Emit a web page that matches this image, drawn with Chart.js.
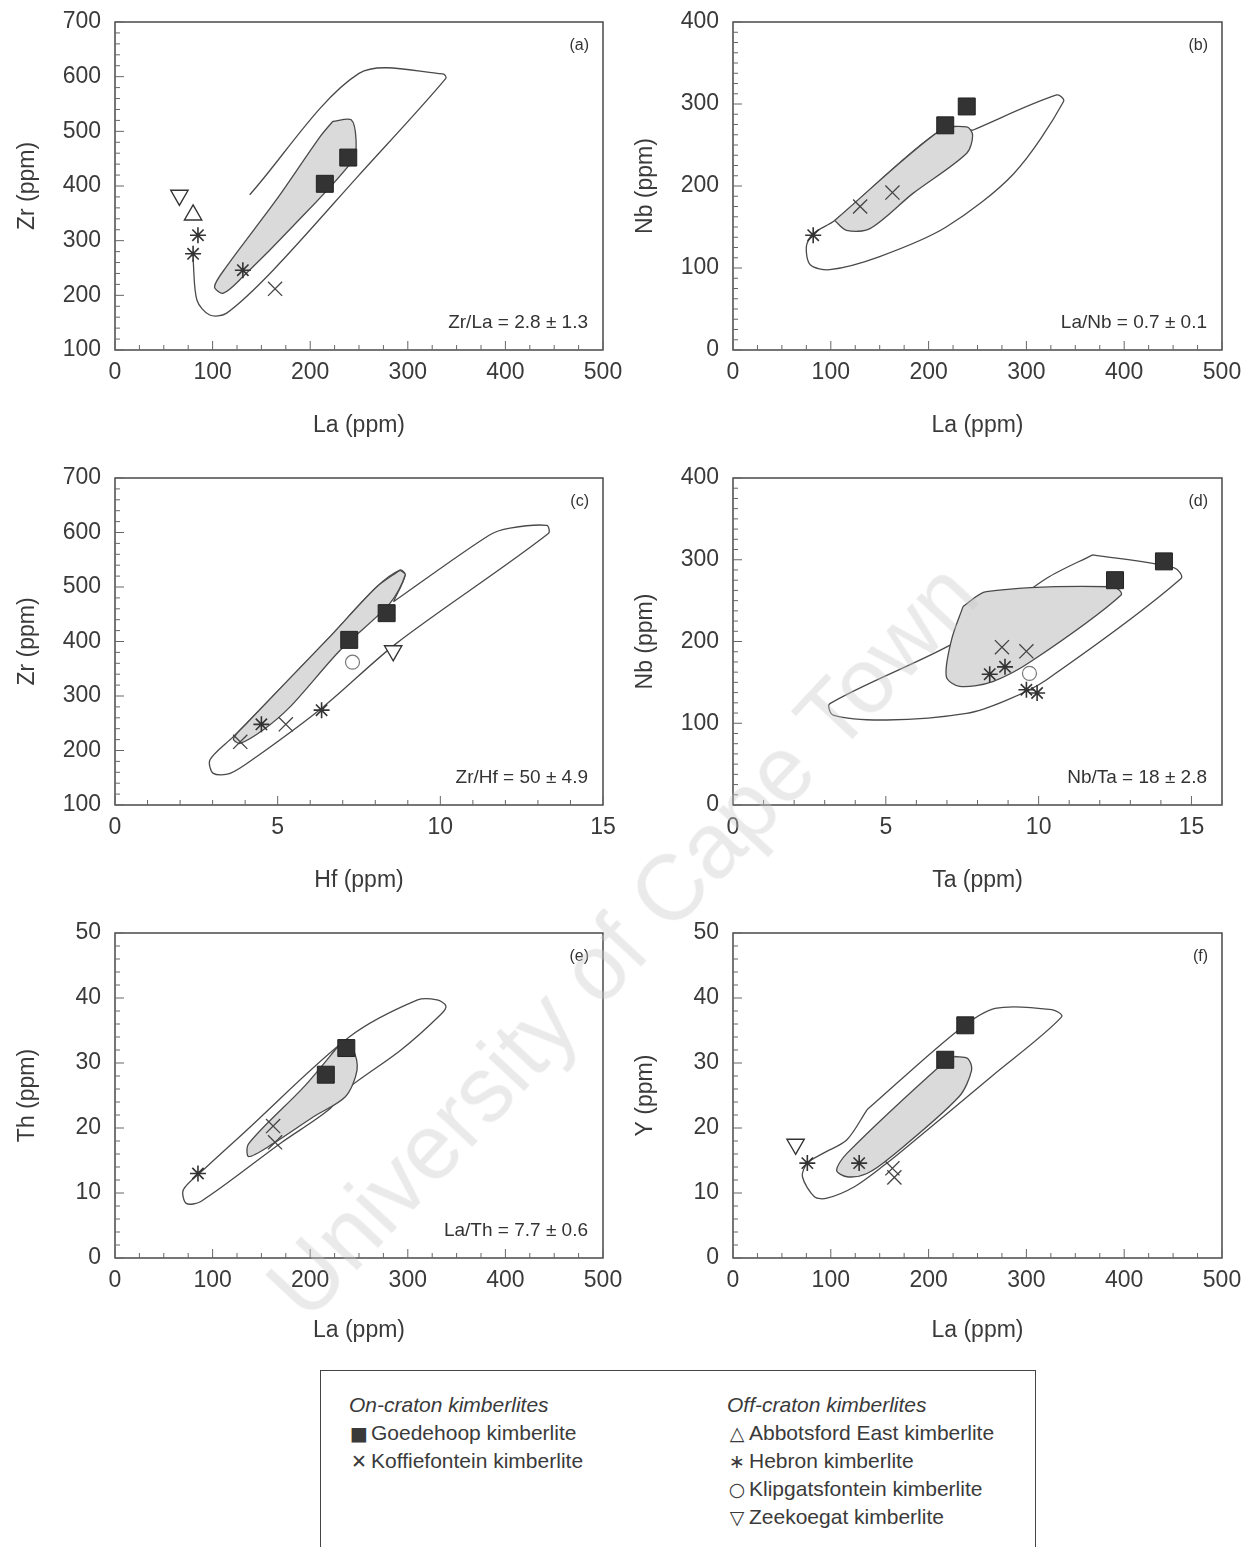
<!DOCTYPE html>
<html>
<head>
<meta charset="utf-8">
<script src="https://cdn.jsdelivr.net/npm/chart.js@4.4.1/dist/chart.umd.min.js"></script>
<style>
  body { margin: 0; background: #fff; width: 1257px; height: 1547px; overflow: hidden; position: relative;
         font-family: "Liberation Sans", Arial, Helvetica, sans-serif; color: #333; }
  canvas { position: absolute; }
  #key { position: absolute; left: 320px; top: 1370px; width: 714px; height: 200px;
         border: 1.5px solid #444; border-bottom: none; }
  #key .col { position: absolute; top: 20px; font-size: 21px; line-height: 28px; white-space: nowrap; color: #3a3a3a; }
  #key .head { font-style: italic; }
  #key .sym { display: inline-block; width: 20px; margin-right: 2px; text-align: center; font-family: "DejaVu Sans", sans-serif; font-size: 19px; }
  #stamp { position: absolute; left: 622px; top: 940px; transform: translate(-50%, -50%) rotate(-47deg);
           font-size: 92px; color: rgba(200, 200, 200, 0.38); white-space: nowrap; pointer-events: none; z-index: 5; }
</style>
</head>
<body>
<canvas id="chartA" width="630" height="450" style="left:0;top:0"></canvas>
<canvas id="chartB" width="631" height="450" style="left:618px;top:0"></canvas>
<canvas id="chartC" width="630" height="449" style="left:0;top:456px"></canvas>
<canvas id="chartD" width="631" height="449" style="left:618px;top:456px"></canvas>
<canvas id="chartE" width="630" height="447" style="left:0;top:911px"></canvas>
<canvas id="chartF" width="631" height="447" style="left:618px;top:911px"></canvas>
<div id="key"></div>
<div id="stamp">University of Cape Town</div>

<script>
Chart.defaults.font.family = '"Liberation Sans", Arial, Helvetica, sans-serif';
Chart.defaults.color = '#3a3a3a';

// kimberlite groups
const onCratonNames = ['Goedehoop kimberlite', 'Koffiefontein kimberlite'];
const offCratonNames = ['Abbotsford East kimberlite', 'Hebron kimberlite', 'Klipgatsfontein kimberlite', 'Zeekoegat kimberlite'];

// axes: [min, max, labelled step, minor tick step]
const axisLa = [0, 500, 100, 25];
const axisZr = [100, 700, 100, 20];
const axisNb = [0, 400, 100, 12.5];
const axisHf = [0, 15, 5, 1];
const axisTa = [0, 16, 5, 1];
const axisTh = [0, 50, 10, 2];
const axisY = [0, 50, 10, 2];

// (a) Zr vs La
const aGoedehoop = [[215, 404], [239, 452]];
const aKoffiefontein = [[164, 212]];
const aAbbotsford = [[80, 347]];
const aHebron = [[85, 310], [80, 276], [131, 246]];
const aZeekoegat = [[66, 383]];
const aFieldShaded = [[223, 518], [242, 521], [247, 484], [244, 448], [182, 326], [131, 234], [111, 204], [102, 216], [114, 252], [165, 374], [210, 490], [223, 518]];
const aFieldOpen = [[138, 384], [250, 606], [336, 605], [339, 597], [250, 420], [162, 246], [114, 167], [97, 164], [84, 191], [80, 265]];

// (b) Nb vs La
const bGoedehoop = [[217, 274], [239, 297]];
const bKoffiefontein = [[163, 192], [130, 175]];
const bHebron = [[82, 140]];
const bFieldShaded = [[104, 158], [212, 268], [239, 272], [245, 262], [239, 240], [184, 191], [140, 148], [116, 146], [104, 158]];
const bFieldOpen = [[245, 268], [331, 311], [338, 303], [287, 215], [218, 150], [150, 114], [99, 98], [79, 104], [75, 126], [82, 142], [104, 158], [212, 268], [245, 268]];

// (c) Zr vs Hf
const cGoedehoop = [[7.2, 403], [8.35, 452]];
const cKoffiefontein = [[3.85, 216], [5.25, 248]];
const cHebron = [[6.35, 274], [4.5, 248]];
const cKlipgatsfontein = [[7.3, 362]];
const cZeekoegat = [[8.55, 383]];
const cFieldShaded = [[8.76, 531], [8.92, 522], [8.45, 470], [6.92, 384], [5.38, 280], [4.56, 238], [3.84, 213], [3.64, 222], [4.05, 250], [6.61, 409], [8.04, 500], [8.76, 531]];
const cFieldOpen = [[8.56, 473], [11.5, 595], [12.14, 608], [13.27, 613], [13.32, 598], [8.66, 397], [6.4, 280], [4.36, 189], [3.54, 158], [3.02, 158], [2.92, 183], [3.63, 225], [4.05, 250], [6.61, 409], [8.04, 500], [8.76, 531], [8.92, 522], [8.56, 473]];

// (d) Nb vs Ta
const dGoedehoop = [[12.5, 275], [14.1, 298]];
const dKoffiefontein = [[8.8, 193], [9.6, 188]];
const dHebron = [[8.9, 169], [9.6, 141], [9.95, 137], [8.4, 160]];
const dKlipgatsfontein = [[9.7, 161]];
const dFieldShaded = [[7.53, 243], [8.29, 261], [12.43, 267], [12.7, 257], [9.81, 177], [8.5, 151], [7.42, 145], [6.98, 157], [7.15, 202], [7.53, 243]];
const dFieldOpen = [[11.77, 306], [14.44, 290], [14.66, 277], [10.25, 153], [8.94, 128], [7.64, 112], [5.02, 104], [3.28, 110], [3.17, 124], [7.42, 202], [10.25, 277], [11.77, 306]];

// (e) Th vs La
const eGoedehoop = [[216, 28.2], [237, 32.3]];
const eKoffiefontein = [[162, 20.3], [164, 17.8]];
const eHebron = [[85, 13]];
const eFieldShaded = [[231, 33], [244, 32], [248, 28.9], [236, 24.8], [203, 21.7], [162, 17.6], [137, 15.6], [137, 17.6], [194, 26.4], [231, 33]];
const eFieldOpen = [[133, 19.4], [240, 34], [310, 39.7], [330, 39.7], [339, 38.8], [334, 37.5], [293, 32], [236, 25.8], [219, 22.8], [170, 17.7], [88, 8.7], [73, 8.4], [70, 10.5], [90, 13.5], [133, 19.4]];

// (f) Y vs La
const fGoedehoop = [[217, 30.5], [237.5, 35.8]];
const fKoffiefontein = [[163, 13.8], [165, 12.4]];
const fHebron = [[129, 14.6], [76, 14.6]];
const fZeekoegat = [[64, 17.5]];
const fFieldShaded = [[227, 31], [240, 30.7], [244, 28.9], [231, 24.8], [162, 15.6], [137, 13], [116.5, 12.5], [106, 13.5], [116.5, 16.1], [215, 30], [227, 31]];
const fFieldOpen = [[137, 22.8], [230, 35], [268, 38.4], [326, 38.2], [336, 37.1], [264, 27.9], [174, 16.6], [157.5, 14.6], [124.6, 11], [96, 9.2], [83.5, 9.4], [71, 12.5], [76, 14.6], [92, 16.1], [116.5, 18.2], [137, 22.8]];

const markerStyles = {
  goedehoop: { pointStyle: 'rect', pointRadius: 12, pointBackgroundColor: '#333', pointBorderColor: '#222', pointBorderWidth: 1 },
  koffiefontein: { pointStyle: 'crossRot', pointRadius: 10, pointBorderColor: '#444', pointBorderWidth: 1.3 },
  abbotsford: { pointStyle: 'triangle', pointRadius: 10, pointBackgroundColor: '#fff', pointBorderColor: '#333', pointBorderWidth: 1.4 },
  hebron: { pointStyle: 'star', pointRadius: 8, pointBorderColor: '#333', pointBorderWidth: 1.6 },
  klipgatsfontein: { pointStyle: 'circle', pointRadius: 7, pointBackgroundColor: '#fff', pointBorderColor: '#777', pointBorderWidth: 1.2 },
  zeekoegat: { pointStyle: 'triangle', pointRotation: 180, pointRadius: 10, pointBackgroundColor: '#fff', pointBorderColor: '#333', pointBorderWidth: 1.4 }
};

function toXY(pairs) {
  return pairs.map(([x, y]) => ({ x, y }));
}

function markers(kind, pairs) {
  return Object.assign({ type: 'scatter', data: toXY(pairs), showLine: false }, markerStyles[kind]);
}

function field(pairs, shaded) {
  return {
    type: 'line', data: toXY(pairs), pointRadius: 0, tension: 0.3,
    borderColor: '#4a4a4a', borderWidth: 1.3,
    fill: shaded ? 'shape' : false, backgroundColor: '#dadada'
  };
}

// frame, inward tick marks and the in-panel captions
const panelFrame = {
  id: 'panelFrame',
  afterDatasetsDraw(chart, args, opts) {
    const { ctx, chartArea: a, scales: { x, y } } = chart;
    ctx.save();
    ctx.strokeStyle = '#3c3c3c';
    ctx.lineWidth = 1.4;
    ctx.strokeRect(a.left, a.top, a.right - a.left, a.bottom - a.top);

    ctx.strokeStyle = '#666';
    ctx.lineWidth = 1;
    const steps = (axis, fn) => {
      const [min, max, major, minor] = axis;
      const n = Math.round((max - min) / minor);
      for (let i = 0; i <= n; i++) {
        const v = min + i * minor;
        const r = v / major;
        fn(v, Math.abs(r - Math.round(r)) < 1e-6);
      }
    };
    ctx.beginPath();
    steps(opts.xAxis, (v, isMajor) => {
      const px = x.getPixelForValue(v);
      ctx.moveTo(px, a.bottom);
      ctx.lineTo(px, a.bottom - (isMajor ? 9 : 5));
    });
    steps(opts.yAxis, (v, isMajor) => {
      const py = y.getPixelForValue(v);
      ctx.moveTo(a.left, py);
      ctx.lineTo(a.left + (isMajor ? 9 : 5), py);
    });
    ctx.stroke();

    ctx.fillStyle = '#333';
    ctx.textAlign = 'right';
    ctx.textBaseline = 'middle';
    ctx.font = '16px "Liberation Sans", Arial, sans-serif';
    ctx.fillText(opts.tag, a.right - 14, a.top + 24);
    if (opts.ratio) {
      ctx.font = '19px "Liberation Sans", Arial, sans-serif';
      ctx.fillText(opts.ratio, a.right - 15, a.bottom - 27);
    }
    ctx.restore();
  }
};

function axisOptions(axis, title, horizontal, titlePad) {
  const [min, max, major] = axis;
  return {
    type: 'linear', min, max,
    position: horizontal ? 'bottom' : 'left',
    afterFit: s => {
      if (horizontal) { s.height = 100; s.paddingLeft = 0; s.paddingRight = 0; }
      else { s.width = 115; s.paddingTop = 0; s.paddingBottom = 0; }
    },
    grid: { display: false, drawTicks: false },
    border: { display: false },
    ticks: {
      stepSize: major, padding: horizontal ? 9 : 14, autoSkip: false, maxRotation: 0, includeBounds: false,
      font: { size: 23 }, color: '#3a3a3a',
      callback: v => (Math.abs(v / major - Math.round(v / major)) < 1e-6 ? v : '')
    },
    title: {
      display: true, text: title, font: { size: 23 }, color: '#3a3a3a',
      padding: horizontal ? { top: 0, bottom: titlePad } : { top: 14, bottom: 0 }
    }
  };
}

function drawPanel(id, cfg) {
  new Chart(document.getElementById(id), {
    type: 'scatter',
    data: { datasets: cfg.datasets },
    options: {
      responsive: false,
      animation: false,
      layout: { padding: { top: 22, right: 27, left: 0, bottom: 0 } },
      plugins: {
        legend: { display: false },
        tooltip: { enabled: false },
        panelFrame: { tag: cfg.tag, ratio: cfg.ratio, xAxis: cfg.xAxis, yAxis: cfg.yAxis }
      },
      scales: {
        x: axisOptions(cfg.xAxis, cfg.xTitle, true, cfg.titlePad),
        y: axisOptions(cfg.yAxis, cfg.yTitle, false)
      }
    },
    plugins: [panelFrame]
  });
}

drawPanel('chartA', {
  tag: '(a)', ratio: 'Zr/La = 2.8 ± 1.3', xAxis: axisLa, yAxis: axisZr, xTitle: 'La (ppm)', yTitle: 'Zr (ppm)', titlePad: 11,
  datasets: [
    markers('goedehoop', aGoedehoop), markers('koffiefontein', aKoffiefontein), markers('abbotsford', aAbbotsford),
    markers('hebron', aHebron), markers('zeekoegat', aZeekoegat),
    field(aFieldShaded, true), field(aFieldOpen, false)
  ]
});

drawPanel('chartB', {
  tag: '(b)', ratio: 'La/Nb = 0.7 ± 0.1', xAxis: axisLa, yAxis: axisNb, xTitle: 'La (ppm)', yTitle: 'Nb (ppm)', titlePad: 11,
  datasets: [
    markers('goedehoop', bGoedehoop), markers('koffiefontein', bKoffiefontein), markers('hebron', bHebron),
    field(bFieldShaded, true), field(bFieldOpen, false)
  ]
});

drawPanel('chartC', {
  tag: '(c)', ratio: 'Zr/Hf = 50 ± 4.9', xAxis: axisHf, yAxis: axisZr, xTitle: 'Hf (ppm)', yTitle: 'Zr (ppm)', titlePad: 11,
  datasets: [
    markers('goedehoop', cGoedehoop), markers('koffiefontein', cKoffiefontein), markers('hebron', cHebron),
    markers('klipgatsfontein', cKlipgatsfontein), markers('zeekoegat', cZeekoegat),
    field(cFieldShaded, true), field(cFieldOpen, false)
  ]
});

drawPanel('chartD', {
  tag: '(d)', ratio: 'Nb/Ta = 18 ± 2.8', xAxis: axisTa, yAxis: axisNb, xTitle: 'Ta (ppm)', yTitle: 'Nb (ppm)', titlePad: 11,
  datasets: [
    markers('goedehoop', dGoedehoop), markers('koffiefontein', dKoffiefontein), markers('hebron', dHebron),
    markers('klipgatsfontein', dKlipgatsfontein),
    field(dFieldShaded, true), field(dFieldOpen, false)
  ]
});

drawPanel('chartE', {
  tag: '(e)', ratio: 'La/Th = 7.7 ± 0.6', xAxis: axisLa, yAxis: axisTh, xTitle: 'La (ppm)', yTitle: 'Th (ppm)', titlePad: 14,
  datasets: [
    markers('goedehoop', eGoedehoop), markers('koffiefontein', eKoffiefontein), markers('hebron', eHebron),
    field(eFieldShaded, true), field(eFieldOpen, false)
  ]
});

drawPanel('chartF', {
  tag: '(f)', ratio: '', xAxis: axisLa, yAxis: axisY, xTitle: 'La (ppm)', yTitle: 'Y (ppm)', titlePad: 14,
  datasets: [
    markers('goedehoop', fGoedehoop), markers('koffiefontein', fKoffiefontein), markers('hebron', fHebron),
    markers('zeekoegat', fZeekoegat),
    field(fFieldShaded, true), field(fFieldOpen, false)
  ]
});

// symbol key under the panels
const onSymbols = ['■', '✕'];
const offSymbols = ['△', '∗', '○', '▽'];
function keyColumn(left, heading, names, symbols) {
  const col = document.createElement('div');
  col.className = 'col';
  col.style.left = left + 'px';
  let html = '<div class="head">' + heading + '</div>';
  names.forEach((n, i) => { html += '<div><span class="sym">' + symbols[i] + '</span>' + n + '</div>'; });
  col.innerHTML = html;
  document.getElementById('key').appendChild(col);
}
keyColumn(28, 'On-craton kimberlites', onCratonNames, onSymbols);
keyColumn(406, 'Off-craton kimberlites', offCratonNames, offSymbols);
</script>
</body>
</html>
